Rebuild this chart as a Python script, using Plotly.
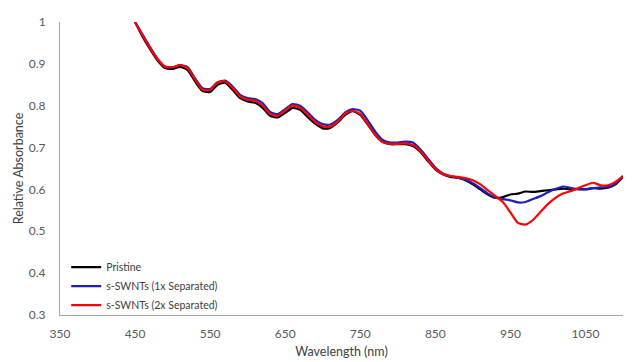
import plotly.graph_objects as go

wavelength = [450, 460, 470, 480, 490, 500, 510, 520, 530, 540, 550, 560, 570, 580, 590, 600,
              610, 620, 630, 640, 650, 660, 670, 680, 690, 700, 710, 720, 730, 740, 750, 760,
              770, 780, 790, 800, 810, 820, 830, 840, 850, 860, 870, 880, 890, 900, 910, 920,
              930, 940, 950, 960, 970, 980, 990, 1000, 1010, 1020, 1030, 1040, 1050, 1060,
              1070, 1080, 1090, 1100]

pristine = [1.000, 0.965, 0.935, 0.908, 0.890, 0.888, 0.893, 0.885, 0.858, 0.835, 0.833, 0.850,
            0.855, 0.838, 0.818, 0.810, 0.807, 0.795, 0.776, 0.772, 0.783, 0.795, 0.790, 0.773,
            0.757, 0.746, 0.747, 0.760, 0.778, 0.787, 0.778, 0.755, 0.730, 0.713, 0.708, 0.708,
            0.708, 0.704, 0.690, 0.668, 0.648, 0.636, 0.630, 0.628, 0.622, 0.612, 0.600, 0.588,
            0.580, 0.582, 0.588, 0.590, 0.595, 0.594, 0.596, 0.598, 0.600, 0.602, 0.600, 0.601,
            0.600, 0.603, 0.602, 0.604, 0.612, 0.630]

sep1x = [1.000, 0.970, 0.940, 0.912, 0.894, 0.892, 0.897, 0.892, 0.865, 0.842, 0.840, 0.856,
         0.860, 0.846, 0.826, 0.818, 0.816, 0.806, 0.785, 0.780, 0.792, 0.804, 0.800, 0.784,
         0.766, 0.756, 0.755, 0.766, 0.784, 0.792, 0.788, 0.765, 0.738, 0.718, 0.712, 0.712,
         0.714, 0.712, 0.696, 0.674, 0.652, 0.638, 0.632, 0.628, 0.624, 0.615, 0.603, 0.590,
         0.580, 0.577, 0.574, 0.569, 0.570, 0.577, 0.584, 0.593, 0.601, 0.607, 0.604, 0.600,
         0.601, 0.603, 0.605, 0.606, 0.614, 0.632]

sep2x = [1.000, 0.967, 0.938, 0.911, 0.893, 0.892, 0.897, 0.890, 0.863, 0.838, 0.838, 0.856,
         0.858, 0.842, 0.822, 0.814, 0.812, 0.800, 0.780, 0.776, 0.789, 0.800, 0.795, 0.778,
         0.761, 0.751, 0.750, 0.762, 0.781, 0.788, 0.780, 0.756, 0.730, 0.713, 0.709, 0.709,
         0.710, 0.706, 0.692, 0.670, 0.649, 0.637, 0.632, 0.630, 0.627, 0.622, 0.612, 0.598,
         0.584, 0.570, 0.545, 0.520, 0.516, 0.527, 0.546, 0.565, 0.580, 0.590, 0.596, 0.603,
         0.610, 0.616, 0.610, 0.610, 0.618, 0.632]

series_names = ["Pristine", "s-SWNTs (1x Separated)", "s-SWNTs (2x Separated)"]
x_ticks = [350, 450, 550, 650, 750, 850, 950, 1050]
y_ticks = [0.3, 0.4, 0.5, 0.6, 0.7, 0.8, 0.9, 1.0]
y_tick_text = ["0.3", "0.4", "0.5", "0.6", "0.7", "0.8", "0.9", "1"]

colors = ["#000000", "#2020B8", "#FF0000"]

fig = go.Figure()
for name, vals, c in zip(series_names, [pristine, sep1x, sep2x], colors):
    fig.add_trace(go.Scatter(x=wavelength, y=vals, mode="lines", name=name,
                             line=dict(color=c, width=2.2, shape="spline", smoothing=0.6)))

font_family = "Lato, 'Open Sans', sans-serif"
fig.update_layout(
    width=633, height=362,
    margin=dict(l=52, r=18, t=6, b=55),
    paper_bgcolor="white", plot_bgcolor="white",
    font=dict(family=font_family, size=12, color="#595959"),
    showlegend=True,
    legend=dict(x=0.011, y=0.213, xanchor="left", yanchor="top",
                bgcolor="rgba(0,0,0,0)", font=dict(size=10.5, color="#404040"),
                tracegroupgap=0, itemwidth=30),
    xaxis=dict(range=[350, 1100], tickvals=x_ticks, showgrid=False, zeroline=False,
               showline=True, linecolor="#A6A6A6", linewidth=1, ticks="",
               ticklabelstandoff=8, ticklabeloverflow="allow",
               title=dict(text="Wavelength (nm)", font=dict(size=12.5, color="#404040"), standoff=6)),
    yaxis=dict(range=[0.3, 1.0], tickvals=y_ticks, ticktext=y_tick_text, showgrid=False,
               zeroline=False, showline=True, linecolor="#A6A6A6", linewidth=1, ticks="",
               ticklabelstandoff=11, ticklabeloverflow="allow",
               title=dict(text="Relative Absorbance", font=dict(size=12.5, color="#404040"), standoff=2)),
)

fig.write_html("out.html")
